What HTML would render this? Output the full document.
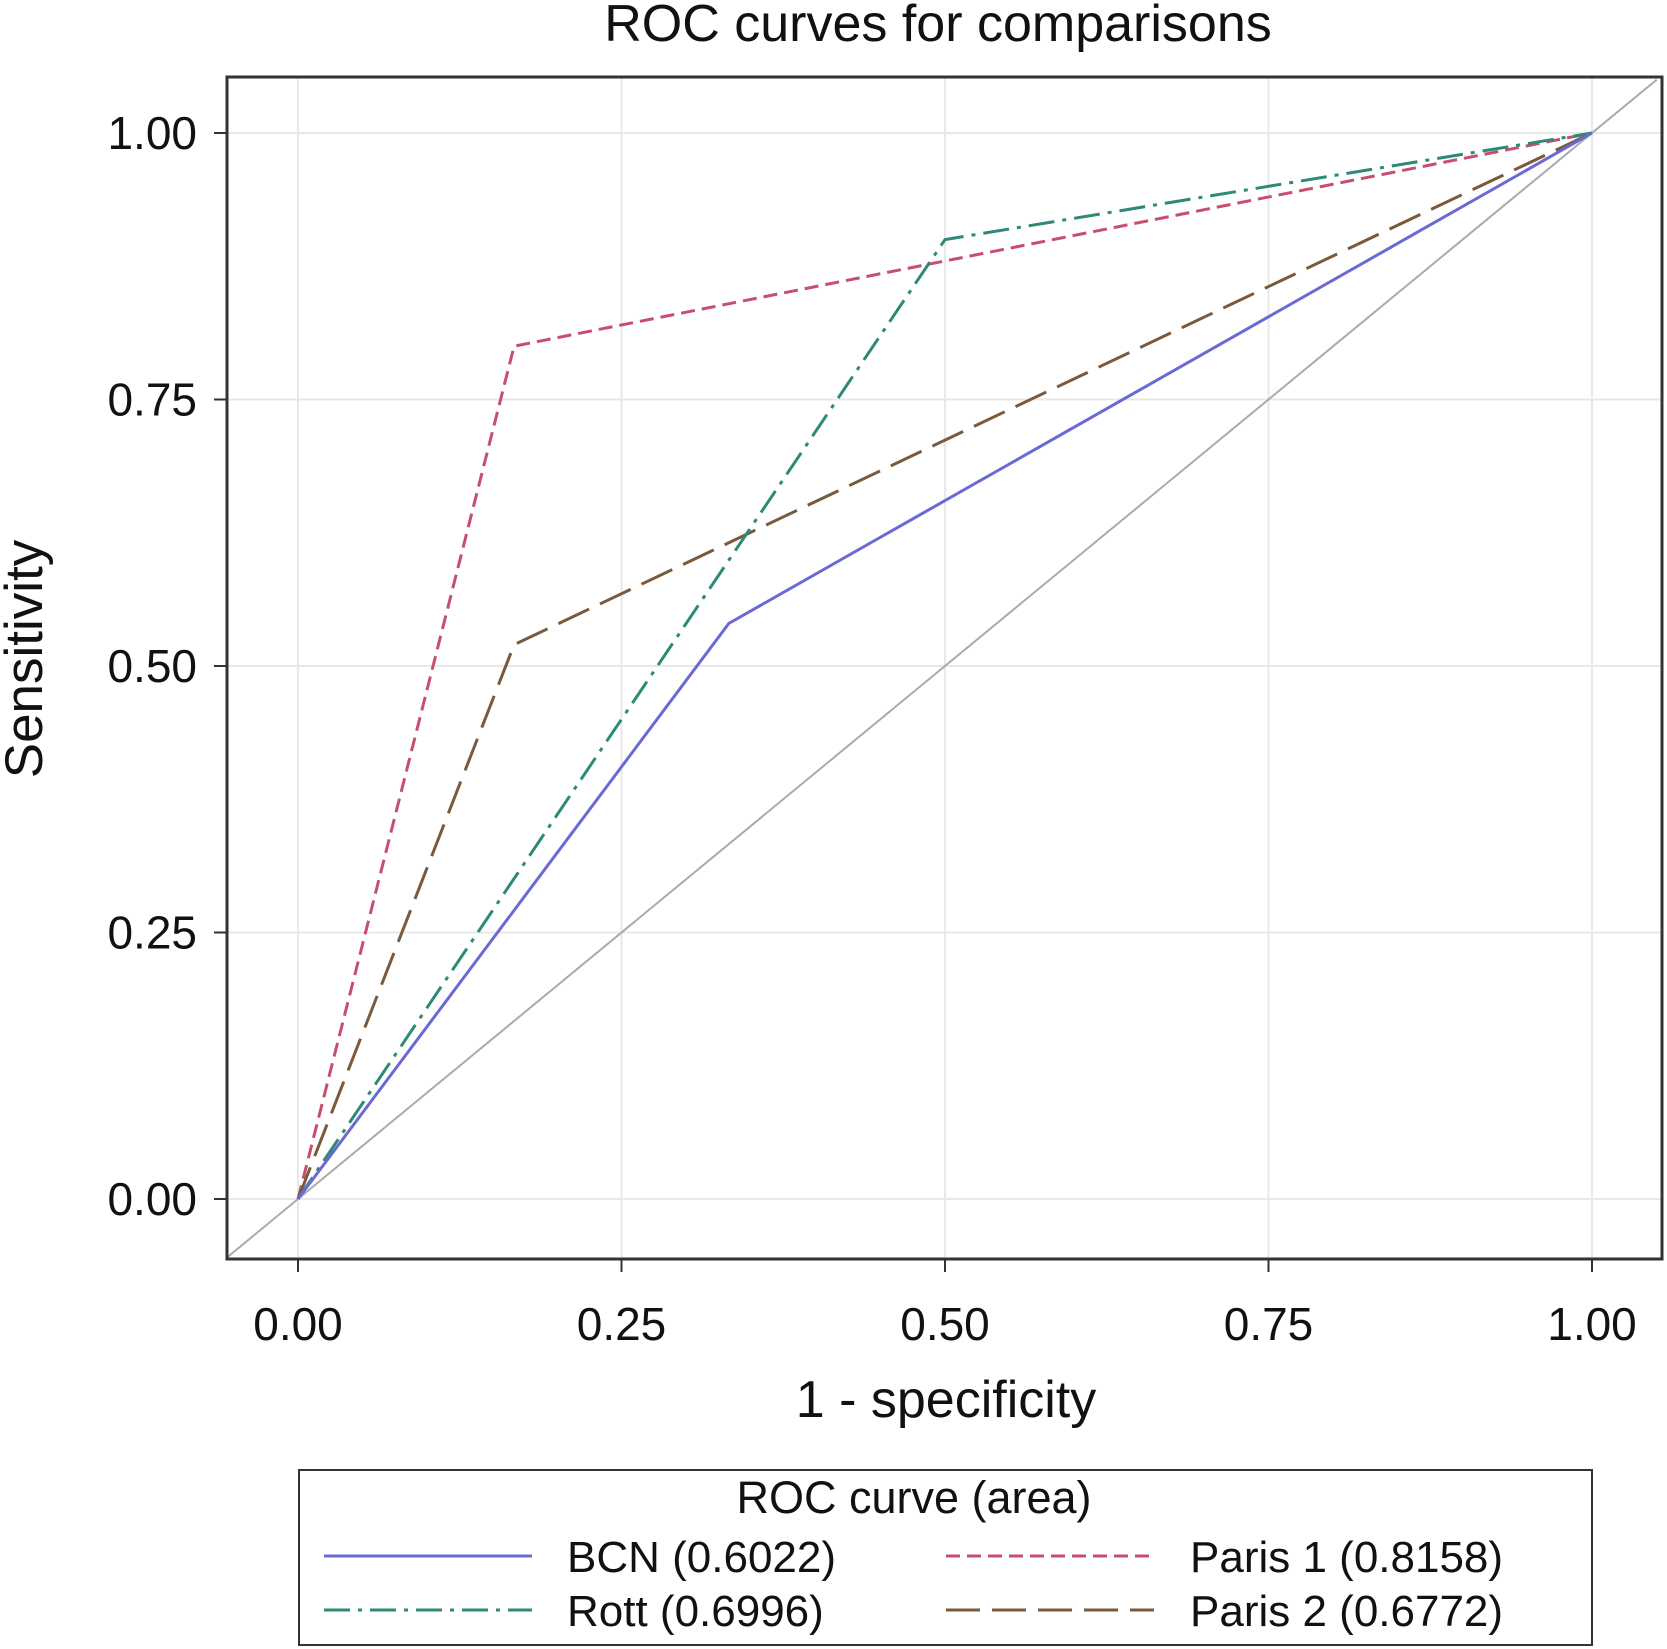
<!DOCTYPE html>
<html><head><meta charset="utf-8"><style>
html,body{margin:0;padding:0;background:#fff;}
svg{display:block;font-family:"Liberation Sans",Arial,sans-serif;}
</style></head><body>
<svg id="chart" width="1667" height="1649" viewBox="0 0 1667 1649">
<text x="938" y="41" text-anchor="middle" font-size="52" fill="#111">ROC curves for comparisons</text>
<g id="grid"></g>
<g id="plot"></g>
<rect x="227" y="77" width="1435" height="1182" fill="none" stroke="#333" stroke-width="3"/>
<g id="ticks"></g>
<text x="946" y="1417" text-anchor="middle" font-size="52" fill="#111">1 - specificity</text>
<text x="0" y="0" transform="translate(42,659) rotate(-90)" text-anchor="middle" font-size="53" fill="#111">Sensitivity</text>
<g>
<rect x="299" y="1470" width="1293" height="175" fill="#fff" stroke="#333" stroke-width="2"/>
<text x="914" y="1513" text-anchor="middle" font-size="45" fill="#111">ROC curve (area)</text>
<g id="legend-items"></g>
</g>
</svg>
<script>
const xTicks = [0, 0.25, 0.5, 0.75, 1];
const yTicks = [0, 0.25, 0.5, 0.75, 1];
const tickLabels = ["0.00", "0.25", "0.50", "0.75", "1.00"];
const seriesNames = ["BCN (0.6022)", "Paris 1 (0.8158)", "Rott (0.6996)", "Paris 2 (0.6772)"];
const bcnX = [0, 0.333, 1];
const bcnY = [0, 0.54, 1];
const paris1X = [0, 0.167, 1];
const paris1Y = [0, 0.80, 1];
const rottX = [0, 0.5, 1];
const rottY = [0, 0.90, 1];
const paris2X = [0, 0.167, 1];
const paris2Y = [0, 0.52, 1];

const X0 = 298, X1 = 1592, Y0 = 1199, Y1 = 133;
const sx = v => X0 + (X1 - X0) * v;
const sy = v => Y0 - (Y0 - Y1) * v;
const NS = "http://www.w3.org/2000/svg";
function mk(tag, attrs, parent) {
  const e = document.createElementNS(NS, tag);
  for (const k in attrs) e.setAttribute(k, attrs[k]);
  parent.appendChild(e);
  return e;
}
const grid = document.getElementById("grid");
const plot = document.getElementById("plot");
const ticks = document.getElementById("ticks");

xTicks.forEach((v, i) => {
  const l = mk("line", {x1: sx(v), x2: sx(v), y1: 78, y2: 1258, stroke: "#e8e8e8", "stroke-width": 2}, grid);
  
  
  const tk = mk("line", {x1: sx(v), x2: sx(v), y1: 1259, y2: 1272, stroke: "#333", "stroke-width": 2}, ticks);
  
  
  const t = mk("text", {x: sx(v), y: 1340, "text-anchor": "middle", "font-size": 46, fill: "#111"}, ticks);
  t.textContent = tickLabels[i];
  
  
});
yTicks.forEach((v, i) => {
  const l = mk("line", {x1: 228, x2: 1661, y1: sy(v), y2: sy(v), stroke: "#e8e8e8", "stroke-width": 2}, grid);
  
  
  const tk = mk("line", {x1: 214, x2: 227, y1: sy(v), y2: sy(v), stroke: "#333", "stroke-width": 2}, ticks);
  
  
  const t = mk("text", {x: 197, y: sy(v) + 16, "text-anchor": "end", "font-size": 46, fill: "#111"}, ticks);
  t.textContent = tickLabels[i];
  
  
});

const dx0 = (227 - X0) / (X1 - X0);
const diag = mk("line", {x1: sx(dx0), y1: sy(dx0), x2: sx(1.05), y2: sy(1.05), stroke: "#aaa", "stroke-width": 2}, plot);



const styles = [
  {xs: bcnX, ys: bcnY, c: "#6a6ad6", d: "none", name: "bcn-curve"},
  {xs: paris1X, ys: paris1Y, c: "#c84f6c", d: "14 7", name: "paris1-curve"},
  {xs: rottX, ys: rottY, c: "#2e8a78", d: "26 8 4 8", name: "rott-curve"},
  {xs: paris2X, ys: paris2Y, c: "#7a5a3c", d: "34 12", name: "paris2-curve"},
];
const order = [1, 3, 2, 0];
order.forEach(i => {
  const s = styles[i];
  const pts = s.xs.map((x, j) => sx(x) + "," + sy(s.ys[j])).join(" ");
  const p = mk("polyline", {points: pts, fill: "none", stroke: s.c, "stroke-width": 3, "stroke-dasharray": s.d}, plot);
  
  
});

const leg = document.getElementById("legend-items");
const legPos = [[324, 567, 1556], [946, 1190, 1556], [324, 567, 1610], [946, 1190, 1610]];
styles.forEach((s, i) => {
  const [lx, tx, y] = legPos[i];
  const l = mk("line", {x1: lx, x2: lx + 208, y1: y, y2: y, stroke: s.c, "stroke-width": 3, "stroke-dasharray": s.d}, leg);
  
  
  const t = mk("text", {x: tx, y: y + 16, "font-size": 44, fill: "#111"}, leg);
  t.textContent = seriesNames[i];
  
  
});
</script>
</body></html>
